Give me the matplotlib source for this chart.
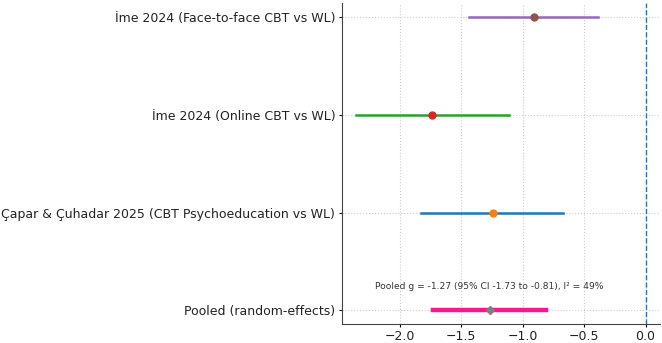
import matplotlib
matplotlib.use("Agg")
import matplotlib.pyplot as plt

# studies, bottom row first (pooled drawn separately)
estudos = ["Çapar & Çuhadar 2025 (CBT Psychoeducation vs WL)",
           "İme 2024 (Online CBT vs WL)",
           "İme 2024 (Face-to-face CBT vs WL)"]
g_vals = [-1.24, -1.74, -0.91]
ci_low = [-1.83, -2.36, -1.44]
ci_high = [-0.67, -1.11, -0.39]

pooled_label = "Pooled (random-effects)"
pooled_g = -1.27
pooled_low = -1.73
pooled_high = -0.81
i2 = 49

x_ticks = [-2.0, -1.5, -1.0, -0.5, 0.0]

plt.rcParams['font.family'] = ['DejaVu Sans']
fig = plt.figure(figsize=(6.62, 3.43), dpi=100)
ax = fig.add_axes([0.517, 0.055, 0.48, 0.935])

for i, (g, lo, hi) in enumerate(zip(g_vals, ci_low, ci_high)):
    ax.plot([lo, hi], [i + 1, i + 1], lw=1.8)
    ax.plot([g], [i + 1], "o", ms=5)

ax.plot([pooled_low, pooled_high], [0, 0], color="#ff1493", lw=3.2)
ax.plot([pooled_g], [0], "D", color="#7f7f7f", ms=4.5)

ax.axvline(0, color="#1f77b4", ls="--", lw=1)

ax.text(pooled_g, 0.25,
        f"Pooled g = {pooled_g:.2f} (95% CI {pooled_low:.2f} to {pooled_high:.2f}), I² = {i2}%",
        ha="center", va="center", fontsize=6.6, color="#333333")

ax.set_yticks(range(4))
ax.set_yticklabels([pooled_label] + estudos, fontsize=9, color="#222222")
ax.set_xticks(x_ticks)
ax.tick_params(axis="x", labelsize=9, labelcolor="#222222", length=2.5, pad=2)
ax.tick_params(axis="y", length=2.5, pad=2.5)
ax.set_xlim(-2.47, 0.118)
ax.set_ylim(-0.14, 3.14)

ax.grid(True, ls=":", color="#cccccc", lw=0.8)
ax.set_axisbelow(True)
ax.spines["top"].set_visible(False)
ax.spines["right"].set_visible(False)
for s in ["left", "bottom"]:
    ax.spines[s].set_color("#444444")

fig.savefig("out.png", dpi=100)
